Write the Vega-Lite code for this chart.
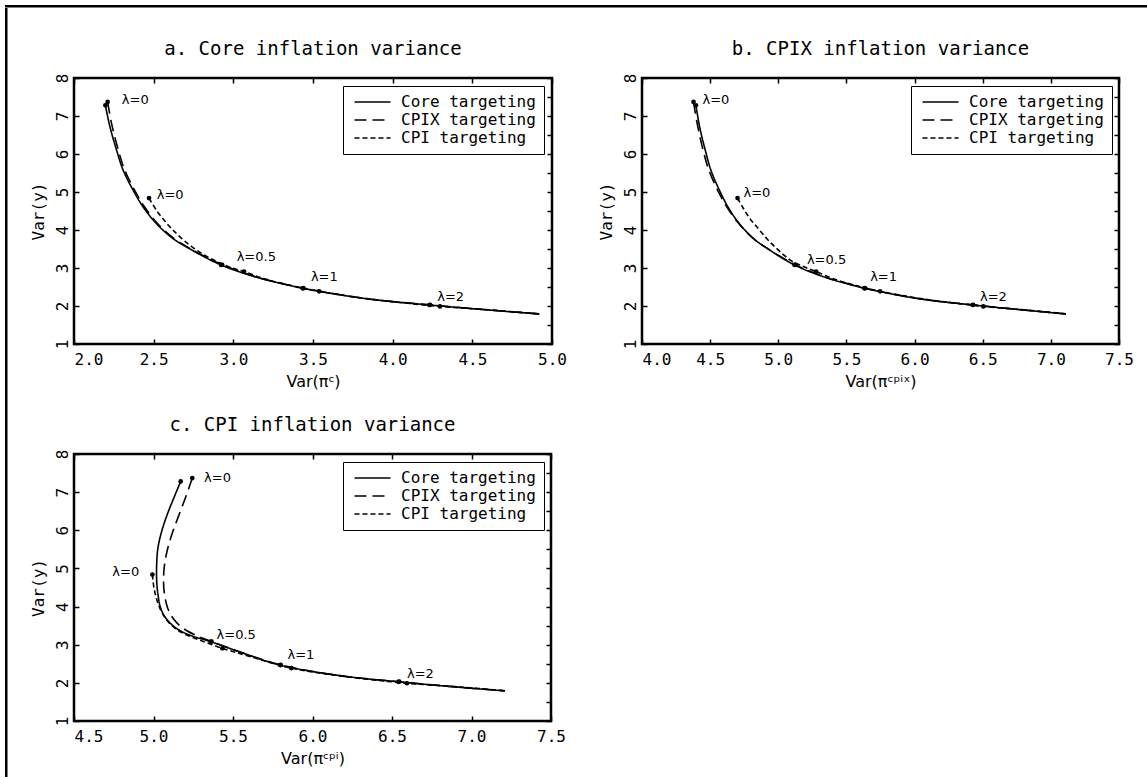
{
  "$schema": "https://vega.github.io/schema/vega-lite/v6.json",
  "background": "white",
  "padding": {"left": 5, "top": 5, "right": 0, "bottom": 0},
  "datasets": {
    "curves": [
      {"p":"a","s":"Core targeting","i":0,"x":2.197,"y":7.28},
      {"p":"a","s":"Core targeting","i":1,"x":2.226,"y":6.71},
      {"p":"a","s":"Core targeting","i":2,"x":2.268,"y":6.09},
      {"p":"a","s":"Core targeting","i":3,"x":2.309,"y":5.57},
      {"p":"a","s":"Core targeting","i":4,"x":2.372,"y":5.04},
      {"p":"a","s":"Core targeting","i":5,"x":2.435,"y":4.60},
      {"p":"a","s":"Core targeting","i":6,"x":2.519,"y":4.16},
      {"p":"a","s":"Core targeting","i":7,"x":2.623,"y":3.77},
      {"p":"a","s":"Core targeting","i":8,"x":2.728,"y":3.50},
      {"p":"a","s":"Core targeting","i":9,"x":2.923,"y":3.08},
      {"p":"a","s":"Core targeting","i":10,"x":3.147,"y":2.755},
      {"p":"a","s":"Core targeting","i":11,"x":3.356,"y":2.54},
      {"p":"a","s":"Core targeting","i":12,"x":3.435,"y":2.465},
      {"p":"a","s":"Core targeting","i":13,"x":3.837,"y":2.19},
      {"p":"a","s":"Core targeting","i":14,"x":4.23,"y":2.027},
      {"p":"a","s":"Core targeting","i":15,"x":4.60,"y":1.895},
      {"p":"a","s":"Core targeting","i":16,"x":4.92,"y":1.79},
      {"p":"a","s":"CPIX targeting","i":0,"x":2.211,"y":7.37},
      {"p":"a","s":"CPIX targeting","i":1,"x":2.236,"y":6.80},
      {"p":"a","s":"CPIX targeting","i":2,"x":2.277,"y":6.12},
      {"p":"a","s":"CPIX targeting","i":3,"x":2.318,"y":5.58},
      {"p":"a","s":"CPIX targeting","i":4,"x":2.38,"y":5.05},
      {"p":"a","s":"CPIX targeting","i":5,"x":2.442,"y":4.61},
      {"p":"a","s":"CPIX targeting","i":6,"x":2.524,"y":4.17},
      {"p":"a","s":"CPIX targeting","i":7,"x":2.627,"y":3.78},
      {"p":"a","s":"CPIX targeting","i":8,"x":2.732,"y":3.505},
      {"p":"a","s":"CPIX targeting","i":9,"x":2.93,"y":3.085},
      {"p":"a","s":"CPIX targeting","i":10,"x":3.15,"y":2.757},
      {"p":"a","s":"CPIX targeting","i":11,"x":3.358,"y":2.54},
      {"p":"a","s":"CPIX targeting","i":12,"x":3.44,"y":2.47},
      {"p":"a","s":"CPIX targeting","i":13,"x":3.84,"y":2.19},
      {"p":"a","s":"CPIX targeting","i":14,"x":4.235,"y":2.03},
      {"p":"a","s":"CPIX targeting","i":15,"x":4.60,"y":1.897},
      {"p":"a","s":"CPIX targeting","i":16,"x":4.92,"y":1.792},
      {"p":"a","s":"CPI targeting","i":0,"x":2.471,"y":4.84},
      {"p":"a","s":"CPI targeting","i":1,"x":2.519,"y":4.51},
      {"p":"a","s":"CPI targeting","i":2,"x":2.571,"y":4.23},
      {"p":"a","s":"CPI targeting","i":3,"x":2.623,"y":3.99},
      {"p":"a","s":"CPI targeting","i":4,"x":2.686,"y":3.74},
      {"p":"a","s":"CPI targeting","i":5,"x":2.749,"y":3.53},
      {"p":"a","s":"CPI targeting","i":6,"x":2.823,"y":3.33},
      {"p":"a","s":"CPI targeting","i":7,"x":2.896,"y":3.17},
      {"p":"a","s":"CPI targeting","i":8,"x":2.98,"y":3.02},
      {"p":"a","s":"CPI targeting","i":9,"x":3.067,"y":2.905},
      {"p":"a","s":"CPI targeting","i":10,"x":3.2,"y":2.71},
      {"p":"a","s":"CPI targeting","i":11,"x":3.356,"y":2.545},
      {"p":"a","s":"CPI targeting","i":12,"x":3.538,"y":2.386},
      {"p":"a","s":"CPI targeting","i":13,"x":3.837,"y":2.195},
      {"p":"a","s":"CPI targeting","i":14,"x":4.297,"y":1.99},
      {"p":"a","s":"CPI targeting","i":15,"x":4.60,"y":1.90},
      {"p":"a","s":"CPI targeting","i":16,"x":4.92,"y":1.792},

      {"p":"b","s":"Core targeting","i":0,"x":4.396,"y":7.28},
      {"p":"b","s":"Core targeting","i":1,"x":4.423,"y":6.71},
      {"p":"b","s":"Core targeting","i":2,"x":4.465,"y":6.09},
      {"p":"b","s":"Core targeting","i":3,"x":4.506,"y":5.57},
      {"p":"b","s":"Core targeting","i":4,"x":4.569,"y":5.04},
      {"p":"b","s":"Core targeting","i":5,"x":4.632,"y":4.60},
      {"p":"b","s":"Core targeting","i":6,"x":4.716,"y":4.16},
      {"p":"b","s":"Core targeting","i":7,"x":4.82,"y":3.77},
      {"p":"b","s":"Core targeting","i":8,"x":4.925,"y":3.50},
      {"p":"b","s":"Core targeting","i":9,"x":5.119,"y":3.08},
      {"p":"b","s":"Core targeting","i":10,"x":5.344,"y":2.755},
      {"p":"b","s":"Core targeting","i":11,"x":5.553,"y":2.54},
      {"p":"b","s":"Core targeting","i":12,"x":5.632,"y":2.465},
      {"p":"b","s":"Core targeting","i":13,"x":6.034,"y":2.19},
      {"p":"b","s":"Core targeting","i":14,"x":6.427,"y":2.027},
      {"p":"b","s":"Core targeting","i":15,"x":6.797,"y":1.895},
      {"p":"b","s":"Core targeting","i":16,"x":7.111,"y":1.79},
      {"p":"b","s":"CPIX targeting","i":0,"x":4.378,"y":7.37},
      {"p":"b","s":"CPIX targeting","i":1,"x":4.405,"y":6.80},
      {"p":"b","s":"CPIX targeting","i":2,"x":4.447,"y":6.12},
      {"p":"b","s":"CPIX targeting","i":3,"x":4.49,"y":5.58},
      {"p":"b","s":"CPIX targeting","i":4,"x":4.555,"y":5.05},
      {"p":"b","s":"CPIX targeting","i":5,"x":4.622,"y":4.61},
      {"p":"b","s":"CPIX targeting","i":6,"x":4.71,"y":4.17},
      {"p":"b","s":"CPIX targeting","i":7,"x":4.816,"y":3.78},
      {"p":"b","s":"CPIX targeting","i":8,"x":4.925,"y":3.505},
      {"p":"b","s":"CPIX targeting","i":9,"x":5.125,"y":3.085},
      {"p":"b","s":"CPIX targeting","i":10,"x":5.347,"y":2.757},
      {"p":"b","s":"CPIX targeting","i":11,"x":5.555,"y":2.54},
      {"p":"b","s":"CPIX targeting","i":12,"x":5.636,"y":2.47},
      {"p":"b","s":"CPIX targeting","i":13,"x":6.036,"y":2.19},
      {"p":"b","s":"CPIX targeting","i":14,"x":6.43,"y":2.03},
      {"p":"b","s":"CPIX targeting","i":15,"x":6.797,"y":1.897},
      {"p":"b","s":"CPIX targeting","i":16,"x":7.111,"y":1.792},
      {"p":"b","s":"CPI targeting","i":0,"x":4.701,"y":4.84},
      {"p":"b","s":"CPI targeting","i":1,"x":4.745,"y":4.56},
      {"p":"b","s":"CPI targeting","i":2,"x":4.794,"y":4.29},
      {"p":"b","s":"CPI targeting","i":3,"x":4.855,"y":4.03},
      {"p":"b","s":"CPI targeting","i":4,"x":4.916,"y":3.77},
      {"p":"b","s":"CPI targeting","i":5,"x":4.977,"y":3.55},
      {"p":"b","s":"CPI targeting","i":6,"x":5.038,"y":3.35},
      {"p":"b","s":"CPI targeting","i":7,"x":5.10,"y":3.18},
      {"p":"b","s":"CPI targeting","i":8,"x":5.19,"y":3.03},
      {"p":"b","s":"CPI targeting","i":9,"x":5.278,"y":2.905},
      {"p":"b","s":"CPI targeting","i":10,"x":5.41,"y":2.71},
      {"p":"b","s":"CPI targeting","i":11,"x":5.565,"y":2.545},
      {"p":"b","s":"CPI targeting","i":12,"x":5.747,"y":2.386},
      {"p":"b","s":"CPI targeting","i":13,"x":6.045,"y":2.195},
      {"p":"b","s":"CPI targeting","i":14,"x":6.504,"y":1.99},
      {"p":"b","s":"CPI targeting","i":15,"x":6.80,"y":1.90},
      {"p":"b","s":"CPI targeting","i":16,"x":7.111,"y":1.792},

      {"p":"c","s":"Core targeting","i":0,"x":5.171,"y":7.28},
      {"p":"c","s":"Core targeting","i":1,"x":5.129,"y":6.86},
      {"p":"c","s":"Core targeting","i":2,"x":5.087,"y":6.42},
      {"p":"c","s":"Core targeting","i":3,"x":5.052,"y":5.98},
      {"p":"c","s":"Core targeting","i":4,"x":5.028,"y":5.54},
      {"p":"c","s":"Core targeting","i":5,"x":5.02,"y":5.11},
      {"p":"c","s":"Core targeting","i":6,"x":5.02,"y":4.67},
      {"p":"c","s":"Core targeting","i":7,"x":5.028,"y":4.32},
      {"p":"c","s":"Core targeting","i":8,"x":5.045,"y":3.96},
      {"p":"c","s":"Core targeting","i":9,"x":5.077,"y":3.70},
      {"p":"c","s":"Core targeting","i":10,"x":5.14,"y":3.44},
      {"p":"c","s":"Core targeting","i":11,"x":5.223,"y":3.26},
      {"p":"c","s":"Core targeting","i":12,"x":5.36,"y":3.08},
      {"p":"c","s":"Core targeting","i":13,"x":5.55,"y":2.80},
      {"p":"c","s":"Core targeting","i":14,"x":5.797,"y":2.465},
      {"p":"c","s":"Core targeting","i":15,"x":6.17,"y":2.19},
      {"p":"c","s":"Core targeting","i":16,"x":6.541,"y":2.027},
      {"p":"c","s":"Core targeting","i":17,"x":6.89,"y":1.895},
      {"p":"c","s":"Core targeting","i":18,"x":7.211,"y":1.79},
      {"p":"c","s":"CPIX targeting","i":0,"x":5.244,"y":7.37},
      {"p":"c","s":"CPIX targeting","i":1,"x":5.205,"y":6.90},
      {"p":"c","s":"CPIX targeting","i":2,"x":5.16,"y":6.40},
      {"p":"c","s":"CPIX targeting","i":3,"x":5.12,"y":5.95},
      {"p":"c","s":"CPIX targeting","i":4,"x":5.088,"y":5.50},
      {"p":"c","s":"CPIX targeting","i":5,"x":5.068,"y":5.05},
      {"p":"c","s":"CPIX targeting","i":6,"x":5.063,"y":4.65},
      {"p":"c","s":"CPIX targeting","i":7,"x":5.07,"y":4.30},
      {"p":"c","s":"CPIX targeting","i":8,"x":5.09,"y":3.95},
      {"p":"c","s":"CPIX targeting","i":9,"x":5.125,"y":3.68},
      {"p":"c","s":"CPIX targeting","i":10,"x":5.18,"y":3.45},
      {"p":"c","s":"CPIX targeting","i":11,"x":5.26,"y":3.26},
      {"p":"c","s":"CPIX targeting","i":12,"x":5.365,"y":3.085},
      {"p":"c","s":"CPIX targeting","i":13,"x":5.55,"y":2.80},
      {"p":"c","s":"CPIX targeting","i":14,"x":5.80,"y":2.47},
      {"p":"c","s":"CPIX targeting","i":15,"x":6.17,"y":2.19},
      {"p":"c","s":"CPIX targeting","i":16,"x":6.545,"y":2.03},
      {"p":"c","s":"CPIX targeting","i":17,"x":6.89,"y":1.897},
      {"p":"c","s":"CPIX targeting","i":18,"x":7.211,"y":1.792},
      {"p":"c","s":"CPI targeting","i":0,"x":4.993,"y":4.84},
      {"p":"c","s":"CPI targeting","i":1,"x":5.003,"y":4.49},
      {"p":"c","s":"CPI targeting","i":2,"x":5.024,"y":4.14},
      {"p":"c","s":"CPI targeting","i":3,"x":5.055,"y":3.83},
      {"p":"c","s":"CPI targeting","i":4,"x":5.108,"y":3.53},
      {"p":"c","s":"CPI targeting","i":5,"x":5.181,"y":3.31},
      {"p":"c","s":"CPI targeting","i":6,"x":5.286,"y":3.13},
      {"p":"c","s":"CPI targeting","i":7,"x":5.433,"y":2.905},
      {"p":"c","s":"CPI targeting","i":8,"x":5.60,"y":2.70},
      {"p":"c","s":"CPI targeting","i":9,"x":5.867,"y":2.386},
      {"p":"c","s":"CPI targeting","i":10,"x":6.20,"y":2.17},
      {"p":"c","s":"CPI targeting","i":11,"x":6.594,"y":1.99},
      {"p":"c","s":"CPI targeting","i":12,"x":6.90,"y":1.90},
      {"p":"c","s":"CPI targeting","i":13,"x":7.211,"y":1.792}
    ],
    "pts": [
      {"p":"a","s":"Core targeting","lam":0,"x":2.197,"y":7.28},
      {"p":"a","s":"Core targeting","lam":0.5,"x":2.923,"y":3.08},
      {"p":"a","s":"Core targeting","lam":1,"x":3.435,"y":2.465},
      {"p":"a","s":"Core targeting","lam":2,"x":4.23,"y":2.027},
      {"p":"a","s":"CPIX targeting","lam":0,"x":2.211,"y":7.37},
      {"p":"a","s":"CPIX targeting","lam":0.5,"x":2.93,"y":3.085},
      {"p":"a","s":"CPIX targeting","lam":1,"x":3.44,"y":2.47},
      {"p":"a","s":"CPIX targeting","lam":2,"x":4.235,"y":2.03},
      {"p":"a","s":"CPI targeting","lam":0,"x":2.471,"y":4.84},
      {"p":"a","s":"CPI targeting","lam":0.5,"x":3.067,"y":2.905},
      {"p":"a","s":"CPI targeting","lam":1,"x":3.538,"y":2.386},
      {"p":"a","s":"CPI targeting","lam":2,"x":4.297,"y":1.99},
      {"p":"b","s":"Core targeting","lam":0,"x":4.396,"y":7.28},
      {"p":"b","s":"Core targeting","lam":0.5,"x":5.119,"y":3.08},
      {"p":"b","s":"Core targeting","lam":1,"x":5.632,"y":2.465},
      {"p":"b","s":"Core targeting","lam":2,"x":6.427,"y":2.027},
      {"p":"b","s":"CPIX targeting","lam":0,"x":4.378,"y":7.37},
      {"p":"b","s":"CPIX targeting","lam":0.5,"x":5.125,"y":3.085},
      {"p":"b","s":"CPIX targeting","lam":1,"x":5.636,"y":2.47},
      {"p":"b","s":"CPIX targeting","lam":2,"x":6.43,"y":2.03},
      {"p":"b","s":"CPI targeting","lam":0,"x":4.701,"y":4.84},
      {"p":"b","s":"CPI targeting","lam":0.5,"x":5.278,"y":2.905},
      {"p":"b","s":"CPI targeting","lam":1,"x":5.747,"y":2.386},
      {"p":"b","s":"CPI targeting","lam":2,"x":6.504,"y":1.99},
      {"p":"c","s":"Core targeting","lam":0,"x":5.171,"y":7.28},
      {"p":"c","s":"Core targeting","lam":0.5,"x":5.36,"y":3.08},
      {"p":"c","s":"Core targeting","lam":1,"x":5.797,"y":2.465},
      {"p":"c","s":"Core targeting","lam":2,"x":6.541,"y":2.027},
      {"p":"c","s":"CPIX targeting","lam":0,"x":5.244,"y":7.37},
      {"p":"c","s":"CPIX targeting","lam":0.5,"x":5.365,"y":3.085},
      {"p":"c","s":"CPIX targeting","lam":1,"x":5.80,"y":2.47},
      {"p":"c","s":"CPIX targeting","lam":2,"x":6.545,"y":2.03},
      {"p":"c","s":"CPI targeting","lam":0,"x":4.993,"y":4.84},
      {"p":"c","s":"CPI targeting","lam":0.5,"x":5.433,"y":2.905},
      {"p":"c","s":"CPI targeting","lam":1,"x":5.867,"y":2.386},
      {"p":"c","s":"CPI targeting","lam":2,"x":6.594,"y":1.99}
    ],
    "labs": [
      {"p":"a","t":"λ=0","x":2.30,"y":7.41},
      {"p":"a","t":"λ=0","x":2.519,"y":4.91},
      {"p":"a","t":"λ=0.5","x":3.021,"y":3.28},
      {"p":"a","t":"λ=1","x":3.487,"y":2.755},
      {"p":"a","t":"λ=2","x":4.28,"y":2.25},
      {"p":"b","t":"λ=0","x":4.444,"y":7.41},
      {"p":"b","t":"λ=0","x":4.745,"y":4.97},
      {"p":"b","t":"λ=0.5","x":5.21,"y":3.21},
      {"p":"b","t":"λ=1","x":5.674,"y":2.755},
      {"p":"b","t":"λ=2","x":6.48,"y":2.25},
      {"p":"c","t":"λ=0","x":5.318,"y":7.36},
      {"p":"c","t":"λ=0","x":4.741,"y":4.90},
      {"p":"c","t":"λ=0.5","x":5.397,"y":3.245},
      {"p":"c","t":"λ=1","x":5.843,"y":2.74},
      {"p":"c","t":"λ=2","x":6.594,"y":2.22}
    ]
  },
  "spacing": 0,
  "vconcat": [
    {
      "width": 1141, "height": 0.5,
      "data": {"values": []},
      "mark": "point",
      "view": {"stroke": "black", "strokeWidth": 2}
    },
    {
      "spacing": 20,
      "hconcat": [
        {
          "width": 0.5, "height": 768,
          "data": {"values": []},
          "mark": "point",
          "view": {"stroke": "black", "strokeWidth": 2}
        },
        {
          "spacing": 0,
          "vconcat": [
            {
              "width": 1, "height": 29,
              "data": {"values": []},
              "mark": "point",
              "view": {"stroke": null}
            },
            {
              "columns": 2,
              "spacing": {"row": 23, "column": 28},
              "concat": [
                {
                  "width": 478, "height": 266,
                  "title": {"text": "a. Core inflation variance"},
                  "layer": [
                    {
                      "data": {"name": "curves"},
                      "transform": [{"filter": "datum.p == 'a'"}],
                      "mark": {"type": "line", "color": "black", "strokeWidth": 1.6, "interpolate": "catmull-rom"},
                      "encoding": {
                        "x": {"field": "x", "type": "quantitative", "scale": {"domain": [2, 5], "nice": false, "zero": false},
                              "axis": {"orient": "bottom", "title": "Var(πᶜ)", "values": [2, 2.5, 3, 3.5, 4, 4.5, 5], "format": ".1f",
                                       "labelAlign": {"condition": {"test": "datum.value <= 2", "value": "left"}, "value": "center"}}},
                        "y": {"field": "y", "type": "quantitative", "scale": {"domain": [1, 8], "nice": false, "zero": false},
                              "axis": {"orient": "left", "title": "Var(y)", "values": [1, 1.5, 2, 2.5, 3, 3.5, 4, 4.5, 5, 5.5, 6, 6.5, 7, 7.5, 8], "format": "d",
                                       "labelExpr": "datum.value % 1 === 0 ? datum.label : ''", "labelAngle": 270, "labelAlign": "center", "labelBaseline": "bottom", "labelPadding": 9}},
                        "strokeDash": {"field": "s", "type": "nominal",
                                       "scale": {"domain": ["Core targeting", "CPIX targeting", "CPI targeting"], "range": [[1, 0], [12, 6], [5, 3]]}},
                        "order": {"field": "i", "type": "quantitative"}
                      }
                    },
                    {
                      "data": {"name": "pts"},
                      "transform": [{"filter": "datum.p == 'a'"}],
                      "mark": {"type": "circle", "color": "black", "size": 22, "opacity": 1},
                      "encoding": {
                        "x": {"field": "x", "type": "quantitative", "axis": {"orient": "top", "labels": false, "title": null, "values": [2, 2.5, 3, 3.5, 4, 4.5, 5]}},
                        "y": {"field": "y", "type": "quantitative", "axis": {"orient": "right", "labels": false, "title": null, "values": [1, 1.5, 2, 2.5, 3, 3.5, 4, 4.5, 5, 5.5, 6, 6.5, 7, 7.5, 8]}}
                      }
                    },
                    {
                      "data": {"name": "labs"},
                      "transform": [{"filter": "datum.p == 'a'"}],
                      "mark": {"type": "text", "align": "left", "baseline": "middle", "font": "DejaVu Sans", "fontSize": 13, "color": "black"},
                      "encoding": {
                        "x": {"field": "x", "type": "quantitative", "axis": null},
                        "y": {"field": "y", "type": "quantitative", "axis": null},
                        "text": {"field": "t"}
                      }
                    }
                  ],
                  "resolve": {"axis": {"x": "independent", "y": "independent"}}
                },
                {
                  "width": 477, "height": 266,
                  "title": {"text": "b. CPIX inflation variance"},
                  "layer": [
                    {
                      "data": {"name": "curves"},
                      "transform": [{"filter": "datum.p == 'b'"}],
                      "mark": {"type": "line", "color": "black", "strokeWidth": 1.6, "interpolate": "catmull-rom"},
                      "encoding": {
                        "x": {"field": "x", "type": "quantitative", "scale": {"domain": [4, 7.5], "nice": false, "zero": false},
                              "axis": {"orient": "bottom", "title": "Var(πᶜᵖⁱˣ)", "values": [4, 4.5, 5, 5.5, 6, 6.5, 7, 7.5], "format": ".1f",
                                       "labelAlign": {"condition": {"test": "datum.value <= 4", "value": "left"}, "value": "center"}}},
                        "y": {"field": "y", "type": "quantitative", "scale": {"domain": [1, 8], "nice": false, "zero": false},
                              "axis": {"orient": "left", "title": "Var(y)", "values": [1, 1.5, 2, 2.5, 3, 3.5, 4, 4.5, 5, 5.5, 6, 6.5, 7, 7.5, 8], "format": "d",
                                       "labelExpr": "datum.value % 1 === 0 ? datum.label : ''", "labelAngle": 270, "labelAlign": "center", "labelBaseline": "bottom", "labelPadding": 9}},
                        "strokeDash": {"field": "s", "type": "nominal",
                                       "scale": {"domain": ["Core targeting", "CPIX targeting", "CPI targeting"], "range": [[1, 0], [12, 6], [5, 3]]}},
                        "order": {"field": "i", "type": "quantitative"}
                      }
                    },
                    {
                      "data": {"name": "pts"},
                      "transform": [{"filter": "datum.p == 'b'"}],
                      "mark": {"type": "circle", "color": "black", "size": 22, "opacity": 1},
                      "encoding": {
                        "x": {"field": "x", "type": "quantitative", "axis": {"orient": "top", "labels": false, "title": null, "values": [4, 4.5, 5, 5.5, 6, 6.5, 7, 7.5]}},
                        "y": {"field": "y", "type": "quantitative", "axis": {"orient": "right", "labels": false, "title": null, "values": [1, 1.5, 2, 2.5, 3, 3.5, 4, 4.5, 5, 5.5, 6, 6.5, 7, 7.5, 8]}}
                      }
                    },
                    {
                      "data": {"name": "labs"},
                      "transform": [{"filter": "datum.p == 'b'"}],
                      "mark": {"type": "text", "align": "left", "baseline": "middle", "font": "DejaVu Sans", "fontSize": 13, "color": "black"},
                      "encoding": {
                        "x": {"field": "x", "type": "quantitative", "axis": null},
                        "y": {"field": "y", "type": "quantitative", "axis": null},
                        "text": {"field": "t"}
                      }
                    }
                  ],
                  "resolve": {"axis": {"x": "independent", "y": "independent"}}
                },
                {
                  "width": 477, "height": 267,
                  "title": {"text": "c. CPI inflation variance"},
                  "layer": [
                    {
                      "data": {"name": "curves"},
                      "transform": [{"filter": "datum.p == 'c'"}],
                      "mark": {"type": "line", "color": "black", "strokeWidth": 1.6, "interpolate": "catmull-rom"},
                      "encoding": {
                        "x": {"field": "x", "type": "quantitative", "scale": {"domain": [4.5, 7.5], "nice": false, "zero": false},
                              "axis": {"orient": "bottom", "title": "Var(πᶜᵖⁱ)", "values": [4.5, 5, 5.5, 6, 6.5, 7, 7.5], "format": ".1f",
                                       "labelAlign": {"condition": {"test": "datum.value <= 4.5", "value": "left"}, "value": "center"}}},
                        "y": {"field": "y", "type": "quantitative", "scale": {"domain": [1, 8], "nice": false, "zero": false},
                              "axis": {"orient": "left", "title": "Var(y)", "values": [1, 1.5, 2, 2.5, 3, 3.5, 4, 4.5, 5, 5.5, 6, 6.5, 7, 7.5, 8], "format": "d",
                                       "labelExpr": "datum.value % 1 === 0 ? datum.label : ''", "labelAngle": 270, "labelAlign": "center", "labelBaseline": "bottom", "labelPadding": 9}},
                        "strokeDash": {"field": "s", "type": "nominal",
                                       "scale": {"domain": ["Core targeting", "CPIX targeting", "CPI targeting"], "range": [[1, 0], [12, 6], [5, 3]]}},
                        "order": {"field": "i", "type": "quantitative"}
                      }
                    },
                    {
                      "data": {"name": "pts"},
                      "transform": [{"filter": "datum.p == 'c'"}],
                      "mark": {"type": "circle", "color": "black", "size": 22, "opacity": 1},
                      "encoding": {
                        "x": {"field": "x", "type": "quantitative", "axis": {"orient": "top", "labels": false, "title": null, "values": [4.5, 5, 5.5, 6, 6.5, 7, 7.5]}},
                        "y": {"field": "y", "type": "quantitative", "axis": {"orient": "right", "labels": false, "title": null, "values": [1, 1.5, 2, 2.5, 3, 3.5, 4, 4.5, 5, 5.5, 6, 6.5, 7, 7.5, 8]}}
                      }
                    },
                    {
                      "data": {"name": "labs"},
                      "transform": [{"filter": "datum.p == 'c'"}],
                      "mark": {"type": "text", "align": "left", "baseline": "middle", "font": "DejaVu Sans", "fontSize": 13, "color": "black"},
                      "encoding": {
                        "x": {"field": "x", "type": "quantitative", "axis": null},
                        "y": {"field": "y", "type": "quantitative", "axis": null},
                        "text": {"field": "t"}
                      }
                    }
                  ],
                  "resolve": {"axis": {"x": "independent", "y": "independent"}}
                }
              ],
              "resolve": {"scale": {"strokeDash": "independent"}, "legend": {"strokeDash": "independent"}}
            }
          ]
        }
      ]
    }
  ],
  "config": {
    "view": {"stroke": "black", "strokeWidth": 2.5},
    "font": "DejaVu Sans Mono",
    "axis": {
      "domain": false, "grid": false,
      "tickSize": -5, "tickWidth": 1.5, "tickColor": "black",
      "labelFont": "DejaVu Sans Mono", "labelFontSize": 16, "labelColor": "black", "labelPadding": 12,
      "titleFont": "DejaVu Sans Mono", "titleFontSize": 16, "titleFontWeight": "normal", "titleColor": "black", "titlePadding": 6
    },
    "axisX": {"titleFont": "DejaVu Sans"},
    "axisY": {"titlePadding": 8},
    "title": {"font": "DejaVu Sans Mono", "fontSize": 19, "fontWeight": "normal", "color": "black", "frame": "group", "anchor": "middle", "offset": 14},
    "legend": {
      "orient": "none", "legendX": 269, "legendY": 8, "title": null,
      "strokeColor": "black", "fillColor": "white", "padding": 8,
      "symbolType": "M-1,0H7", "symbolSize": 81, "symbolStrokeWidth": 1.5, "symbolStrokeColor": "black",
      "labelFont": "DejaVu Sans Mono", "labelFontSize": 16, "labelColor": "black", "labelOffset": 34, "rowPadding": 2
    }
  }
}
